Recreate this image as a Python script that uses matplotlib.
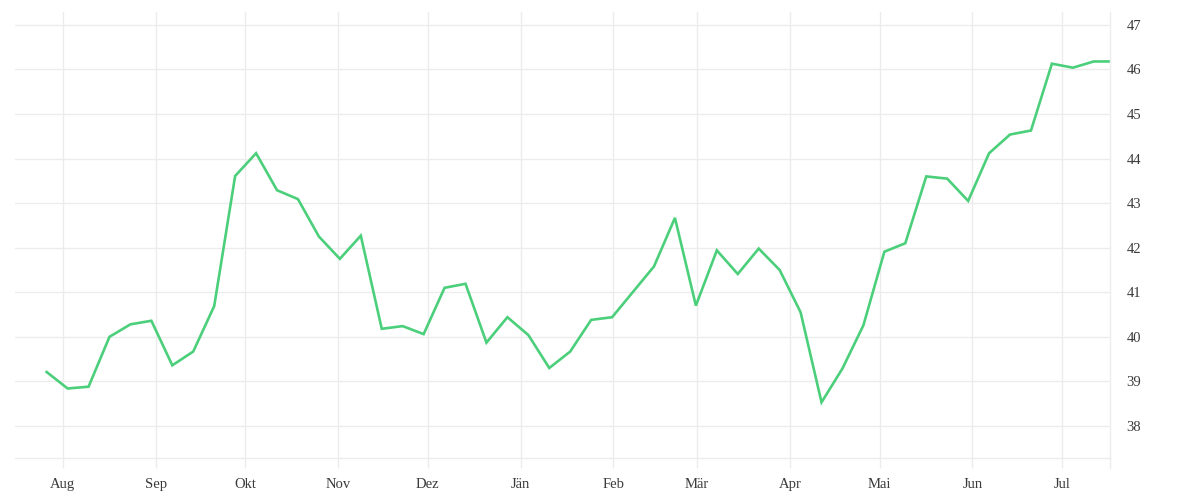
import matplotlib.pyplot as plt
import matplotlib.dates as mdates
import numpy as np
import pandas as pd

# weekly series, starting late July
start_date = "2022-07-26 14:00"
values = [
    39.21, 38.84, 38.88, 40.00, 40.28, 40.36, 39.36, 39.67, 40.69, 43.61,
    44.12, 43.29, 43.09, 42.25, 41.75, 42.27, 40.18, 40.24, 40.06, 41.10,
    41.19, 39.87, 40.44, 40.04, 39.30, 39.67, 40.38, 40.44, 41.01, 41.58,
    42.67, 40.70, 41.94, 41.41, 41.98, 41.50, 40.55, 38.53, 39.29, 40.26,
    41.91, 42.10, 43.60, 43.55, 43.05, 44.12, 44.54, 44.63, 46.13, 46.04,
    46.18, 46.18,
]
month_starts = pd.date_range("2022-08-01", "2023-07-01", freq="MS")
month_labels = ["Aug", "Sep", "Okt", "Nov", "Dez", "Jän",
                "Feb", "Mär", "Apr", "Mai", "Jun", "Jul"]
y_ticks = list(range(38, 48))

dates = pd.date_range(start_date, periods=len(values), freq="7D")

grid_color = "#ececec"
text_color = "#3a3a3a"
line_color = "#4ccf7b"

fig = plt.figure(figsize=(12, 5), dpi=100)
ax = fig.add_axes([15 / 1200, 1 - 458 / 500, 1095 / 1200, 446 / 500])

ax.plot(dates, values, color=line_color, linewidth=1.9, solid_joinstyle="miter")

ax.set_xlim(pd.Timestamp("2022-07-16"), pd.Timestamp("2023-07-17"))
ax.set_ylim(37.28, 47.29)

ax.set_xticks(month_starts)
ax.set_xticklabels(month_labels)
ax.set_yticks(y_ticks)
ax.yaxis.tick_right()

ax.grid(True, color=grid_color, linewidth=1)
ax.set_axisbelow(True)

for side in ["top", "left"]:
    ax.spines[side].set_visible(False)
for side in ["bottom", "right"]:
    ax.spines[side].set_color(grid_color)
    ax.spines[side].set_linewidth(1)

# extension of the right edge line below the axis, like the month ticks
ax.plot([1, 1], [0, -10 / 446], transform=ax.transAxes, color=grid_color,
        linewidth=1, clip_on=False)

ax.tick_params(axis="x", length=7.2, width=1, color=grid_color, pad=7,
               labelsize=10.5, labelcolor=text_color)
ax.tick_params(axis="y", length=0, pad=12, labelsize=10.5,
               labelcolor=text_color)
for lbl in ax.get_xticklabels() + ax.get_yticklabels():
    lbl.set_fontfamily("Liberation Serif")

fig.savefig("out.png", dpi=100)
